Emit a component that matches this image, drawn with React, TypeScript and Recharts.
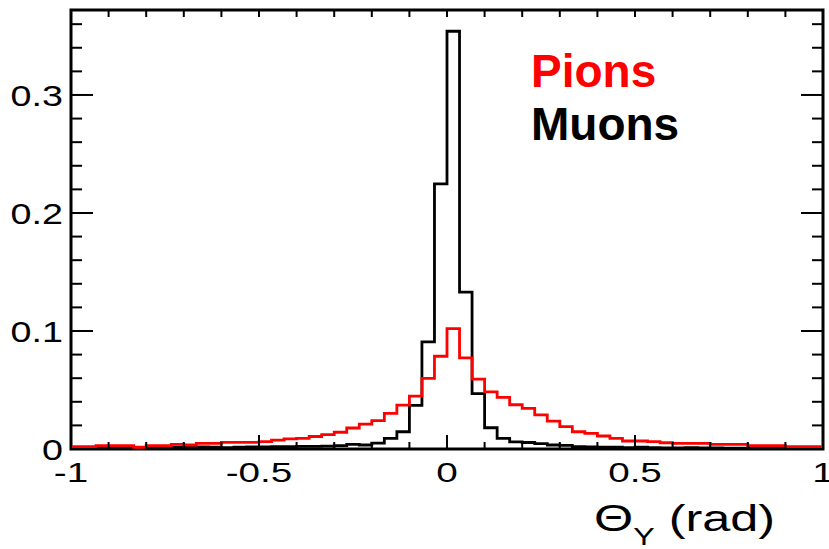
import { Customized, Line, LineChart, ReferenceArea, XAxis, YAxis } from "recharts";

// 60 bins between -1 and 1 rad
const BIN_COUNT = 60;
const X_MIN = -1;
const X_MAX = 1;
const Y_MAX = 0.372;

const pions = [
  0.002, 0.002, 0.0028, 0.0028, 0.0028, 0.0015, 0.0028, 0.0028, 0.004, 0.0034,
  0.0048, 0.0048, 0.0056, 0.0056, 0.0056, 0.0062, 0.0076, 0.0085, 0.009, 0.0106,
  0.0122, 0.0142, 0.0178, 0.021, 0.024, 0.0302, 0.0372, 0.0448, 0.0598, 0.0786,
  0.102, 0.0772, 0.0592, 0.0484, 0.0437, 0.0375, 0.0345, 0.029, 0.0237, 0.0189,
  0.0146, 0.0132, 0.011, 0.009, 0.0068, 0.0068, 0.0062, 0.0053, 0.0048, 0.0048,
  0.0048, 0.004, 0.004, 0.004, 0.0028, 0.0028, 0.0028, 0.002, 0.002, 0.002,
];

const muons = [
  0.0008, 0.0008, 0.0012, 0.0012, 0.001, 0.0012, 0.001, 0.0012, 0.0015, 0.0018,
  0.0018, 0.0015, 0.0012, 0.0015, 0.0018, 0.0018, 0.002, 0.002, 0.0022, 0.0022,
  0.0025, 0.0028, 0.004, 0.0034, 0.005, 0.009, 0.0146, 0.037, 0.0907, 0.2246,
  0.354, 0.133, 0.047, 0.018, 0.009, 0.006, 0.0055, 0.0046, 0.0034, 0.003,
  0.002, 0.0018, 0.0015, 0.0015, 0.0012, 0.0015, 0.0012, 0.001, 0.001, 0.0012,
  0.001, 0.001, 0.0008, 0.0008, 0.0006, 0.0006, 0.0005, 0.0005, 0.0004, 0.0004,
];

const xTicks = [
  -1, -0.9, -0.8, -0.7, -0.6, -0.5, -0.4, -0.3, -0.2, -0.1, 0,
  0.1, 0.2, 0.3, 0.4, 0.5, 0.6, 0.7, 0.8, 0.9, 1,
];
const xLabels = [-1, -0.5, 0, 0.5, 1];

const yTicks = [
  0, 0.02, 0.04, 0.06, 0.08, 0.1, 0.12, 0.14, 0.16, 0.18, 0.2,
  0.22, 0.24, 0.26, 0.28, 0.3, 0.32, 0.34, 0.36,
];
const yLabels = [0, 0.1, 0.2, 0.3];

// step-after points on bin edges, last edge repeats the last bin
const data = Array.from({ length: BIN_COUNT + 1 }, (_, i) => {
  const b = Math.min(i, BIN_COUNT - 1);
  return {
    x: X_MIN + ((X_MAX - X_MIN) * i) / BIN_COUNT,
    pions: pions[b],
    muons: muons[b],
  };
});

const W = 829;
const H = 549;
const PLOT_TOP = 10;
const PLOT_LEFT = 71;
const PLOT_RIGHT = 823;
const PLOT_BOTTOM = 449;
const FONT = "'Liberation Sans', Arial, sans-serif";

function XTick(props: any) {
  const { x, payload } = props;
  const v = payload.value;
  const major = xLabels.some((l) => Math.abs(l - v) < 1e-6);
  return (
    <g>
      <line x1={x} x2={x} y1={PLOT_BOTTOM} y2={PLOT_BOTTOM - (major ? 14 : 7)} stroke="#000" strokeWidth={2} />
      <line x1={x} x2={x} y1={PLOT_TOP} y2={PLOT_TOP + 7} stroke="#000" strokeWidth={2} />
      {major && (
        <text
          transform={`translate(${x},${PLOT_BOTTOM + 33}) scale(1.38,1)`}
          textAnchor="middle"
          fontFamily={FONT}
          fontSize={28}
          fill="#000"
        >
          {String(v)}
        </text>
      )}
    </g>
  );
}

function YTick(props: any) {
  const { y, payload } = props;
  const v = payload.value;
  const major = yLabels.some((l) => Math.abs(l - v) < 1e-6);
  const len = major ? 22 : 11;
  return (
    <g>
      <line x1={PLOT_LEFT} x2={PLOT_LEFT + len} y1={y} y2={y} stroke="#000" strokeWidth={2} />
      <line x1={PLOT_RIGHT} x2={PLOT_RIGHT - len} y1={y} y2={y} stroke="#000" strokeWidth={2} />
      {major && (
        <text
          transform={`translate(${PLOT_LEFT - 8},${y + 11}) scale(1.3,1)`}
          textAnchor="end"
          fontFamily={FONT}
          fontSize={29}
          fill="#000"
        >
          {String(v)}
        </text>
      )}
    </g>
  );
}

function Annotations() {
  return (
    <g fontFamily={FONT}>
      <text x={531} y={87} fontSize={46} fontWeight="bold" fill="#ff0000">
        Pions
      </text>
      <text x={531} y={140} fontSize={46} fontWeight="bold" fill="#000">
        Muons
      </text>
      <text transform="translate(594,531) scale(1.4,1)" fill="#000">
        <tspan fontSize={36}>Θ</tspan>
        <tspan fontSize={23} dy={14}>Y</tspan>
        <tspan fontSize={36} dy={-14}>{" (rad)"}</tspan>
      </text>
    </g>
  );
}

export default function App() {
  return (
    <div style={{ position: "absolute", left: 0, top: 0, width: W, height: H, background: "#fff" }}>
      <LineChart
        width={W}
        height={H}
        data={data}
        margin={{ top: PLOT_TOP, left: 0, right: W - PLOT_RIGHT, bottom: 0 }}
      >
        <XAxis
          dataKey="x"
          type="number"
          domain={[X_MIN, X_MAX]}
          ticks={xTicks}
          interval={0}
          height={H - PLOT_BOTTOM}
          tickSize={0}
          tickMargin={0}
          axisLine={false}
          tickLine={false}
          tick={<XTick />}
          allowDataOverflow
        />
        <YAxis
          type="number"
          domain={[0, Y_MAX]}
          ticks={yTicks}
          interval={0}
          width={PLOT_LEFT}
          tickSize={0}
          tickMargin={0}
          axisLine={false}
          tickLine={false}
          tick={<YTick />}
          allowDataOverflow
        />
        <ReferenceArea
          x1={X_MIN}
          x2={X_MAX}
          y1={0}
          y2={Y_MAX}
          fill="none"
          stroke="#000"
          strokeWidth={3}
        />
        <Line
          type="stepAfter"
          dataKey="muons"
          stroke="#000"
          strokeWidth={2.8}
          dot={false}
          isAnimationActive={false}
        />
        <Line
          type="stepAfter"
          dataKey="pions"
          stroke="#ff0000"
          strokeWidth={2.8}
          dot={false}
          isAnimationActive={false}
        />
        <Customized component={Annotations} />
      </LineChart>
    </div>
  );
}
